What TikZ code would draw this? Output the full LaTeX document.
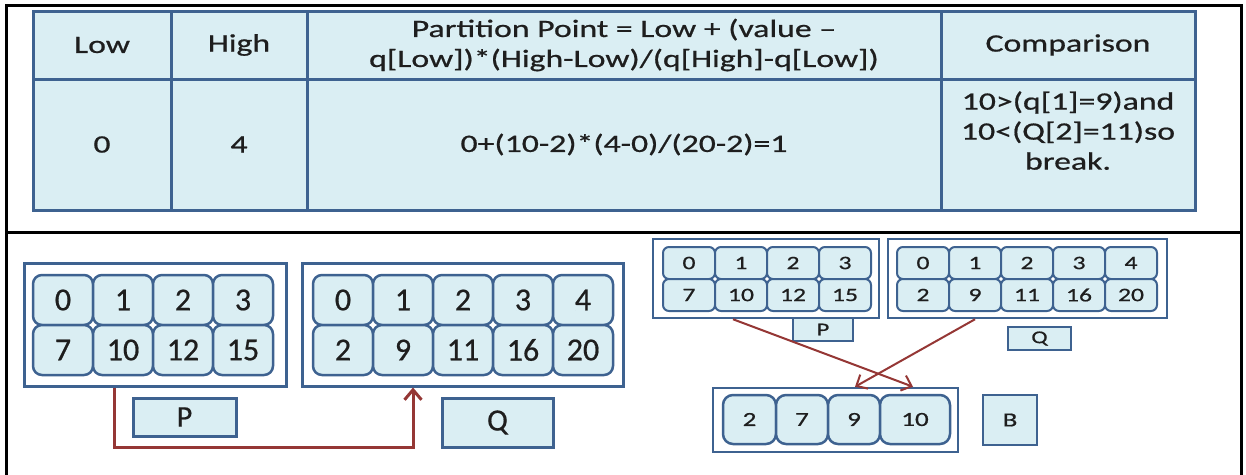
\documentclass[tikz,border=0pt]{standalone}
\usepackage{fontspec}
\setmainfont{Carlito}[FakeBold=0.6]
\newfontfamily\widefont[FakeStretch=1.35,FakeBold=0.7]{Carlito}
\usetikzlibrary{arrows.meta}
\definecolor{bfill}{HTML}{DAEEF3}
\definecolor{bline}{HTML}{3E6290}
\definecolor{rline}{HTML}{953735}
\definecolor{txt}{HTML}{1E1E1E}
\tikzset{
 tcell/.style={draw=bline, fill=bfill, line width=3pt, inner sep=0pt, align=center, text=txt, font=\widefont\fontsize{25}{30}\selectfont},
 bigcell/.style={draw=bline, fill=bfill, line width=2.5pt, rounded corners=9pt, inner sep=0pt, text=txt, font=\fontsize{32}{36}\selectfont, minimum width=60pt, minimum height=50pt},
 smallcell/.style={draw=bline, fill=bfill, line width=2pt, rounded corners=6pt, inner sep=0pt, text=txt, font=\widefont\fontsize{19}{22}\selectfont, minimum width=52pt, minimum height=32pt},
 bcell/.style={draw=bline, fill=bfill, line width=2.5pt, rounded corners=10pt, inner sep=0pt, text=txt, font=\widefont\fontsize{20}{24}\selectfont, minimum height=49pt},
 holder/.style={draw=bline, fill=white, line width=3pt, inner sep=0pt},
 lbl/.style={draw=bline, fill=bfill, line width=3pt, inner sep=0pt, text=txt},
 link/.style={draw=rline, line width=3pt, -{Straight Barb[length=10pt,width=17pt]}},
 slink/.style={draw=rline, line width=2pt, -{Straight Barb[length=9pt,width=16pt]}},
}
\begin{document}
\begin{tikzpicture}[x=1pt,y=-1pt]
\useasboundingbox (0,0) rectangle (1246,474);
% frame
\draw[line width=3pt] (6,476) -- (6,5) -- (1241,5) -- (1241,476);
\draw[line width=3pt] (6,232) -- (1241,232);
% table
\node[tcell, minimum width=138pt, minimum height=68pt] (hLow) at (102,45) {Low};
\node[tcell, minimum width=136pt, minimum height=68pt] (hHigh) at (239,45) {High};
\node[tcell, minimum width=634pt, minimum height=68pt] (hPart) at (624,45) {Partition Point = Low + (value –\\q[Low])*(High-Low)/(q[High]-q[Low])};
\node[tcell, minimum width=254pt, minimum height=68pt] (hComp) at (1068,45) {Comparison};
\node[tcell, minimum width=138pt, minimum height=131pt] (vLow) at (102,144.5) {0};
\node[tcell, minimum width=136pt, minimum height=131pt] (vHigh) at (239,144.5) {4};
\node[tcell, minimum width=634pt, minimum height=131pt] (vPart) at (624,144.5) {0+(10-2)*(4-0)/(20-2)=1};
\node[tcell, minimum width=254pt, minimum height=131pt] (vComp) at (1068,144.5) {10>(q[1]=9)and\\10<(Q[2]=11)so\\break.\\[-2pt]\mbox{}};
% big P
\node[holder, minimum width=262pt, minimum height=123pt] (Pbig) at (155,324.5) {};
\foreach \t [count=\i from 0] in {0,1,2,3} \node[bigcell] (pa\i) at ({63+60*\i},300) {\t};
\foreach \t [count=\i from 0] in {7,10,12,15} \node[bigcell] (pb\i) at ({63+60*\i},350) {\t};
\node[lbl, minimum width=103pt, minimum height=38pt, font=\fontsize{30}{34}\selectfont] (Plbl) at (184.5,417) {P};
% big Q
\node[holder, minimum width=321pt, minimum height=123pt] (Qbig) at (462.5,324.5) {};
\foreach \t [count=\i from 0] in {0,1,2,3,4} \node[bigcell] (qa\i) at ({343+60*\i},300) {\t};
\foreach \t [count=\i from 0] in {2,9,11,16,20} \node[bigcell] (qb\i) at ({343+60*\i},350) {\t};
\node[lbl, minimum width=111pt, minimum height=49pt, font=\fontsize{31}{34}\selectfont] (Qlbl) at (497.5,422.5) {Q};
\coordinate (bend) at (114,447);
\draw[link] ([xshift=-41pt]Pbig.south) -- (bend) -| ([xshift=-49.5pt]Qbig.south);
% small P
\node[holder, line width=2.5pt, minimum width=226pt, minimum height=79pt] (Psm) at (766,278.5) {};
\foreach \t [count=\i from 0] in {0,1,2,3} \node[smallcell] (spa\i) at ({689+52*\i},263) {\t};
\foreach \t [count=\i from 0] in {7,10,12,15} \node[smallcell] (spb\i) at ({689+52*\i},295) {\t};
\node[lbl, line width=2.5pt, minimum width=60pt, minimum height=23pt, font=\widefont\fontsize{18}{20}\selectfont] (Pslbl) at (823,329.5) {P};
% small Q
\node[holder, line width=2.5pt, minimum width=279pt, minimum height=79pt] (Qsm) at (1027.5,278.5) {};
\foreach \t [count=\i from 0] in {0,1,2,3,4} \node[smallcell] (sqa\i) at ({923+52*\i},263) {\t};
\foreach \t [count=\i from 0] in {2,9,11,16,20} \node[smallcell] (sqb\i) at ({923+52*\i},295) {\t};
\node[lbl, line width=2.5pt, minimum width=63pt, minimum height=23pt, font=\widefont\fontsize{18}{20}\selectfont] (Qslbl) at (1039.5,338.5) {Q};
% B
\node[holder, line width=2.5pt, minimum width=245pt, minimum height=64pt] (Bbox) at (835.5,420) {};
\node[bcell, minimum width=53pt] (b0) at (749.5,419.5) {2};
\node[bcell, minimum width=52pt] (b1) at (802,419.5) {7};
\node[bcell, minimum width=52pt] (b2) at (854,419.5) {9};
\node[bcell, minimum width=70pt] (b3) at (915,419.5) {10};
\node[lbl, line width=2.5pt, minimum width=54pt, minimum height=50pt, font=\widefont\fontsize{20}{24}\selectfont] (Blbl) at (1010,420) {B};
% arrows
\draw[slink] ([xshift=-33pt]Psm.south) -- ([xshift=77.5pt]Bbox.north);
\draw[slink] ([xshift=-52.5pt]Qsm.south) -- ([xshift=19.5pt]Bbox.north);
\end{tikzpicture}
\end{document}
